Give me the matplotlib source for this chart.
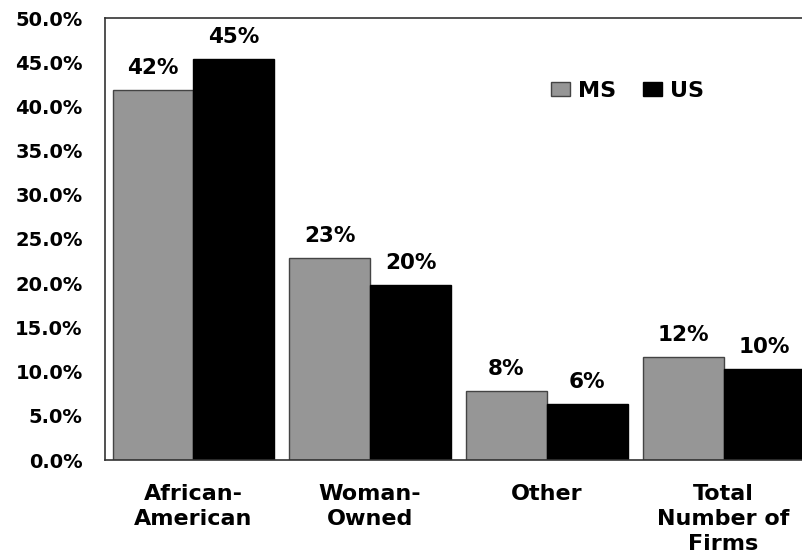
import matplotlib.pyplot as plt
import numpy as np

categories = ["African-\nAmerican", "Woman-\nOwned", "Other", "Total\nNumber of\nFirms"]
ms_values = [41.9, 22.9, 7.8, 11.7]
us_values = [45.4, 19.8, 6.3, 10.3]
ms_labels = ["42%", "23%", "8%", "12%"]
us_labels = ["45%", "20%", "6%", "10%"]
yticks = np.arange(0, 50.1, 5)

plt.rcParams['font.family'] = ['DejaVu Sans']
plt.rcParams['font.weight'] = 'bold'

fig = plt.figure(figsize=(8.02, 5.56), dpi=100)
ax = fig.add_axes([105 / 802, 96 / 556, 707 / 802, 442 / 556])

x = np.arange(len(categories))
w = 0.457
b1 = ax.bar(x - w / 2, ms_values, w, color='#969696', edgecolor='#444444', linewidth=1, label='MS')
b2 = ax.bar(x + w / 2, us_values, w, color='black', edgecolor='black', linewidth=1, label='US')

for bars, labels in ((b1, ms_labels), (b2, us_labels)):
    for rect, lab in zip(bars, labels):
        ax.annotate(lab, (rect.get_x() + rect.get_width() / 2, rect.get_height()),
                    xytext=(0, 11.5), textcoords='offset points',
                    ha='center', va='baseline', fontsize=15.5, fontweight='bold')

ax.set_xlim(-0.5, 3.5)
ax.set_ylim(0, 50)
ax.set_yticks(yticks)
ax.set_yticklabels([f"{v:.1f}%" for v in yticks], fontsize=14, fontweight='bold')
ax.set_xticks(x)
ax.set_xticklabels(categories, fontsize=16, fontweight='bold', linespacing=1.32)
ax.tick_params(axis='y', length=0, pad=16)
ax.tick_params(axis='x', length=0, pad=17)

for s in ['left', 'top', 'bottom']:
    ax.spines[s].set_color('#333333')
    ax.spines[s].set_linewidth(1.2)
ax.spines['right'].set_visible(False)

fig.legend(handles=[b1, b2], loc='center left', bbox_to_anchor=(551 / 802, 1 - 91 / 556),
           ncol=2, frameon=False, fontsize=16, handlelength=0.86, handleheight=0.6,
           handletextpad=0.36, columnspacing=1.2, borderaxespad=0, borderpad=0)

fig.savefig('out.png', dpi=100)
